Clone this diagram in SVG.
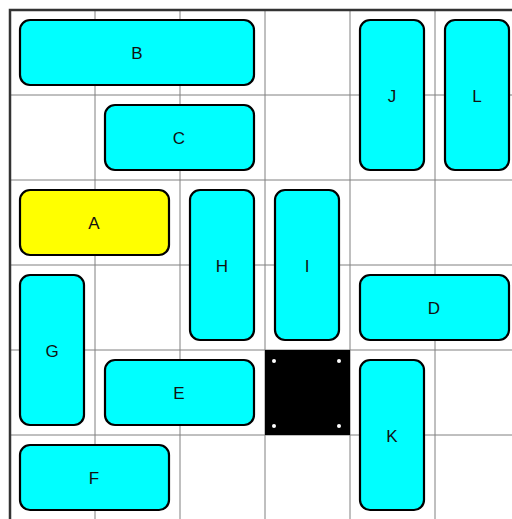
<svg xmlns="http://www.w3.org/2000/svg" width="512" height="519" viewBox="0 0 512 519">
<style>
.grid line{stroke:#808080;stroke-width:1}
.blk rect{fill:#00ffff;stroke:#000;stroke-width:2.2}
.blk.goal rect{fill:#ffff00}
.blk text{font-family:"Liberation Sans",Arial,sans-serif;font-size:17px;fill:#111;text-anchor:middle;dominant-baseline:central}
.dot{fill:#fff}
</style>
<rect x="0" y="0" width="512" height="519" fill="#fff"/>
<g class="grid">
<line x1="95" y1="10" x2="95" y2="519"/>
<line x1="180" y1="10" x2="180" y2="519"/>
<line x1="265" y1="10" x2="265" y2="519"/>
<line x1="350" y1="10" x2="350" y2="519"/>
<line x1="435" y1="10" x2="435" y2="519"/>
<line x1="10" y1="95" x2="512" y2="95"/>
<line x1="10" y1="180" x2="512" y2="180"/>
<line x1="10" y1="265" x2="512" y2="265"/>
<line x1="10" y1="350" x2="512" y2="350"/>
<line x1="10" y1="435" x2="512" y2="435"/>
</g>
<path d="M10 519 V10 H512" fill="none" stroke="#333" stroke-width="2.5"/>
<g id="exit">
<rect x="265" y="350" width="85" height="85" fill="#000"/>
<circle class="dot" cx="274" cy="361" r="2"/>
<circle class="dot" cx="339" cy="361" r="2"/>
<circle class="dot" cx="274" cy="426" r="2"/>
<circle class="dot" cx="339" cy="426" r="2"/>
</g>
<g id="B" class="blk"><rect x="20" y="20" width="234" height="65" rx="10"/><text x="137" y="53">B</text></g>
<g id="J" class="blk"><rect x="360" y="20" width="64" height="150" rx="10"/><text x="392" y="96">J</text></g>
<g id="L" class="blk"><rect x="445" y="20" width="64" height="150" rx="10"/><text x="477" y="96">L</text></g>
<g id="C" class="blk"><rect x="105" y="105" width="149" height="65" rx="10"/><text x="179" y="138">C</text></g>
<g id="A" class="blk goal"><rect x="20" y="190" width="149" height="65" rx="10"/><text x="94" y="223">A</text></g>
<g id="H" class="blk"><rect x="190" y="190" width="64" height="150" rx="10"/><text x="222" y="266">H</text></g>
<g id="I" class="blk"><rect x="275" y="190" width="64" height="150" rx="10"/><text x="307" y="266">I</text></g>
<g id="D" class="blk"><rect x="360" y="275" width="149" height="65" rx="10"/><text x="434" y="308">D</text></g>
<g id="G" class="blk"><rect x="20" y="275" width="64" height="150" rx="10"/><text x="52" y="351">G</text></g>
<g id="E" class="blk"><rect x="105" y="360" width="149" height="65" rx="10"/><text x="179" y="393">E</text></g>
<g id="K" class="blk"><rect x="360" y="360" width="64" height="150" rx="10"/><text x="392" y="436">K</text></g>
<g id="F" class="blk"><rect x="20" y="445" width="149" height="65" rx="10"/><text x="94" y="478">F</text></g>
</svg>
